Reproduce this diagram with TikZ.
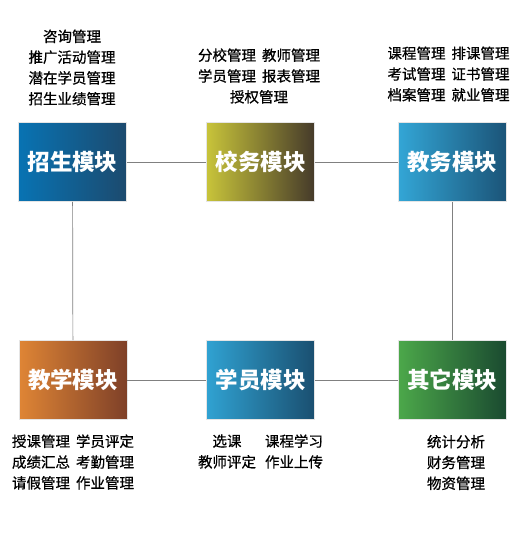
\documentclass[tikz,border=0pt]{standalone}
\usepackage{fontspec}
\setmainfont{Noto Sans CJK SC}
\newfontfamily\featfont[FakeBold=0.7]{Noto Sans CJK SC}
\usepackage{xcolor}
\usepackage{tikz}
\usetikzlibrary{positioning}
\definecolor{zsleft}{HTML}{0873B3}
\definecolor{zsright}{HTML}{1C4A6E}
\definecolor{xwleft}{HTML}{C8C43A}
\definecolor{xwright}{HTML}{453A2A}
\definecolor{jwleft}{HTML}{33A6D6}
\definecolor{jwright}{HTML}{1B5478}
\definecolor{jxleft}{HTML}{DF8535}
\definecolor{jxright}{HTML}{7E4028}
\definecolor{xyleft}{HTML}{30A2D2}
\definecolor{xyright}{HTML}{1A4F70}
\definecolor{qtleft}{HTML}{4CA84A}
\definecolor{qtright}{HTML}{1A4A30}
\tikzset{
  modnode/.style={draw=white!80!gray,line width=0.8pt,minimum width=108pt,minimum height=79pt,inner sep=0pt,
    text=white,font=\fontsize{22.5}{26}\selectfont\bfseries},
  featnode/.style={align=center,inner sep=0pt,font=\featfont\fontsize{14.5}{20.8}\selectfont},
  linkedge/.style={draw=black!50,line width=0.7pt},
}

\begin{document}
\begin{tikzpicture}[x=1pt,y=-1pt]
  \useasboundingbox (0,0) rectangle (528,550);
  \node[modnode,left color=zsleft,right color=zsright] (nEnroll) at (72.5,162) {招生模块};
  \node[modnode,left color=xwleft,right color=xwright] (nCampus) at (260.5,162) {校务模块};
  \node[modnode,left color=jwleft,right color=jwright] (nAcad) at (452,162) {教务模块};
  \node[modnode,left color=jxleft,right color=jxright] (nTeach) at (73,380) {教学模块};
  \node[modnode,left color=xyleft,right color=xyright] (nStudent) at (260.5,380) {学员模块};
  \node[modnode,left color=qtleft,right color=qtright] (nOther) at (452,380) {其它模块};
  \node[featnode] (fEnroll) at (72,67.5) {咨询管理\\推广活动管理\\潜在学员管理\\招生业绩管理};
  \node[featnode] (fCampus) at (259,76) {分校管理\hspace{6pt}教师管理\\学员管理\hspace{6pt}报表管理\\授权管理};
  \node[featnode] (fAcad) at (448.5,74) {课程管理\hspace{6pt}排课管理\\考试管理\hspace{6pt}证书管理\\档案管理\hspace{6pt}就业管理};
  \node[featnode] (fTeach) at (73,462) {授课管理\hspace{6pt}学员评定\\成绩汇总\hspace{6pt}考勤管理\\请假管理\hspace{6pt}作业管理};
  \node[featnode] (fStudentL) at (227,451.5) {选课\\教师评定};
  \node[featnode] (fStudentR) at (294,451.5) {课程学习\\作业上传};
  \node[featnode] (fOther) at (456,462.5) {统计分析\\财务管理\\物资管理};
  \draw[linkedge] (nEnroll) -- (nCampus);
  \draw[linkedge] (nCampus) -- (nAcad);
  \draw[linkedge] (nEnroll) -- (nTeach);
  \draw[linkedge] (nAcad) -- (nOther);
  \draw[linkedge] (nTeach) -- (nStudent);
  \draw[linkedge] (nStudent) -- (nOther);
\end{tikzpicture}
\end{document}
